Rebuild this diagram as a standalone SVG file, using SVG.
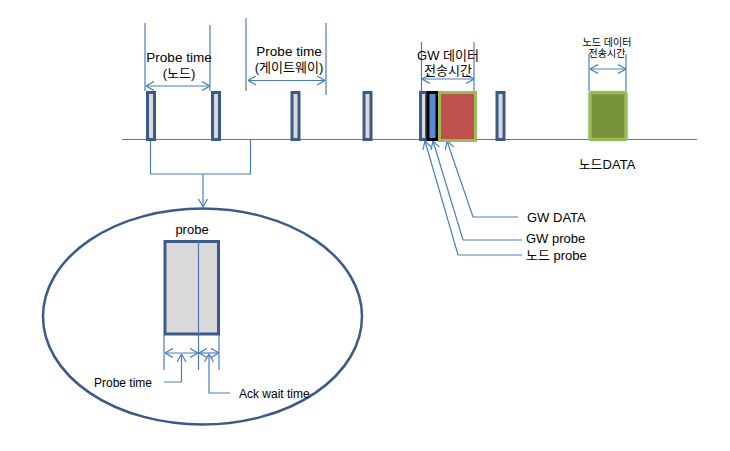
<svg xmlns="http://www.w3.org/2000/svg" width="730" height="451" viewBox="0 0 730 451">
<style>
.ln{stroke:#4A7EBB;stroke-width:1.2;fill:none}
.probe{fill:#D9D9D9;stroke:#3C5A87;stroke-width:3}
.t{font-family:"Liberation Sans","Noto Sans CJK KR",sans-serif;font-size:13px;fill:#000}
.s{font-size:10px}
.m{font-size:12px}
</style>
<defs>
<marker id="ah" viewBox="0 0 8 10" refX="8" refY="5" markerWidth="8" markerHeight="10" markerUnits="userSpaceOnUse" orient="auto-start-reverse">
<path d="M0,0.5 L8,5 L0,9.5" fill="none" stroke="#4A7EBB" stroke-width="1.2"/>
</marker>
</defs>
<rect width="730" height="451" fill="#fff"/>
<g id="connectors">
<line class="ln" x1="122" y1="139.5" x2="697" y2="139.5"/>
<line class="ln" x1="145" y1="23" x2="145" y2="91"/>
<line class="ln" x1="210" y1="25" x2="210" y2="91"/>
<line class="ln" x1="146" y1="86" x2="210" y2="86" marker-start="url(#ah)" marker-end="url(#ah)"/>
<line class="ln" x1="246" y1="18" x2="246" y2="91"/>
<line class="ln" x1="326" y1="23" x2="326" y2="95"/>
<line class="ln" x1="248" y1="80.5" x2="325" y2="80.5" marker-start="url(#ah)" marker-end="url(#ah)"/>
<line class="ln" x1="421.5" y1="42" x2="421.5" y2="91"/>
<line class="ln" x1="474" y1="42" x2="474" y2="91"/>
<line class="ln" x1="422" y1="79" x2="474" y2="79" marker-start="url(#ah)" marker-end="url(#ah)"/>
<line class="ln" x1="589" y1="54" x2="589" y2="91"/>
<line class="ln" x1="626" y1="54" x2="626" y2="91"/>
<line class="ln" x1="590" y1="69" x2="626" y2="69" marker-start="url(#ah)" marker-end="url(#ah)"/>
<polyline class="ln" points="150.5,140 150.5,174 250.5,174 250.5,140"/>
<line class="ln" x1="203" y1="174" x2="203" y2="207" marker-end="url(#ah)"/>
<polyline class="ln" points="518,217 473,217 447,141" marker-end="url(#ah)"/>
<polyline class="ln" points="522,240 463,240 433,141" marker-end="url(#ah)"/>
<polyline class="ln" points="522,255 458,255 425,141" marker-end="url(#ah)"/>
<line class="ln" x1="164" y1="335" x2="164" y2="370"/>
<line class="ln" x1="219" y1="335" x2="219" y2="370"/>
<line class="ln" x1="198.5" y1="334" x2="198.5" y2="370"/>
<line class="ln" x1="165" y1="353" x2="198" y2="353" marker-start="url(#ah)" marker-end="url(#ah)"/>
<line class="ln" x1="199" y1="353" x2="219" y2="353" marker-start="url(#ah)" marker-end="url(#ah)"/>
<polyline class="ln" points="164,382 181.5,382 181.5,354" marker-end="url(#ah)"/>
<polyline class="ln" points="230,393 209,393 209,354" marker-end="url(#ah)"/>
</g>
<g id="probe-bars">
<rect class="probe" x="147.5" y="92.5" width="7" height="47"/>
<rect class="probe" x="212.5" y="92.5" width="7" height="47"/>
<rect class="probe" x="292" y="92.5" width="7" height="47"/>
<rect class="probe" x="364" y="92.5" width="7" height="47"/>
<rect class="probe" x="420.5" y="92.5" width="6" height="47"/>
<rect class="probe" x="497" y="92.5" width="7" height="47"/>
</g>
<g id="gw-probe">
<rect x="428" y="92.5" width="9" height="47" fill="#5B8BD5" stroke="#000" stroke-width="3"/>
</g>
<g id="gw-data">
<rect x="439.5" y="92.5" width="36" height="48" fill="#C0504D" stroke="#9BBB59" stroke-width="3"/>
</g>
<g id="node-data">
<rect x="590" y="92.5" width="36" height="47" fill="#77933C" stroke="#9BBB59" stroke-width="3.5" rx="1.5"/>
</g>
<g id="ellipse">
<ellipse cx="202.5" cy="316.5" rx="159.5" ry="108" fill="none" stroke="#3C5A87" stroke-width="2.5"/>
<rect x="165" y="241.5" width="53.5" height="92.5" fill="#D9D9D9" stroke="#3C5A87" stroke-width="3"/>
<line class="ln" x1="198.5" y1="241" x2="198.5" y2="334"/>
</g>
<g id="labels">
<text class="t" x="179" y="62" text-anchor="middle" style="font-size:13.5px">Probe time</text>
<text class="t" x="179" y="78" text-anchor="middle">(노드)</text>
<text class="t" x="289" y="56" text-anchor="middle" style="font-size:13.5px">Probe time</text>
<text class="t" x="289" y="72" text-anchor="middle">(게이트웨이)</text>
<text class="t" x="448" y="60" text-anchor="middle">GW 데이터</text>
<text class="t" x="448" y="75" text-anchor="middle">전송시간</text>
<text class="t s" x="607" y="46" text-anchor="middle">노드 데이터</text>
<text class="t s" x="607" y="57" text-anchor="middle">전송시간</text>
<text class="t" x="607" y="169" text-anchor="middle">노드DATA</text>
<text class="t" x="527" y="222">GW DATA</text>
<text class="t" x="526" y="243">GW probe</text>
<text class="t" x="526" y="260">노드 probe</text>
<text class="t" x="192" y="234" text-anchor="middle">probe</text>
<text class="t m" x="94" y="387">Probe time</text>
<text class="t m" x="239" y="398">Ack wait time</text>
</g>
</svg>
